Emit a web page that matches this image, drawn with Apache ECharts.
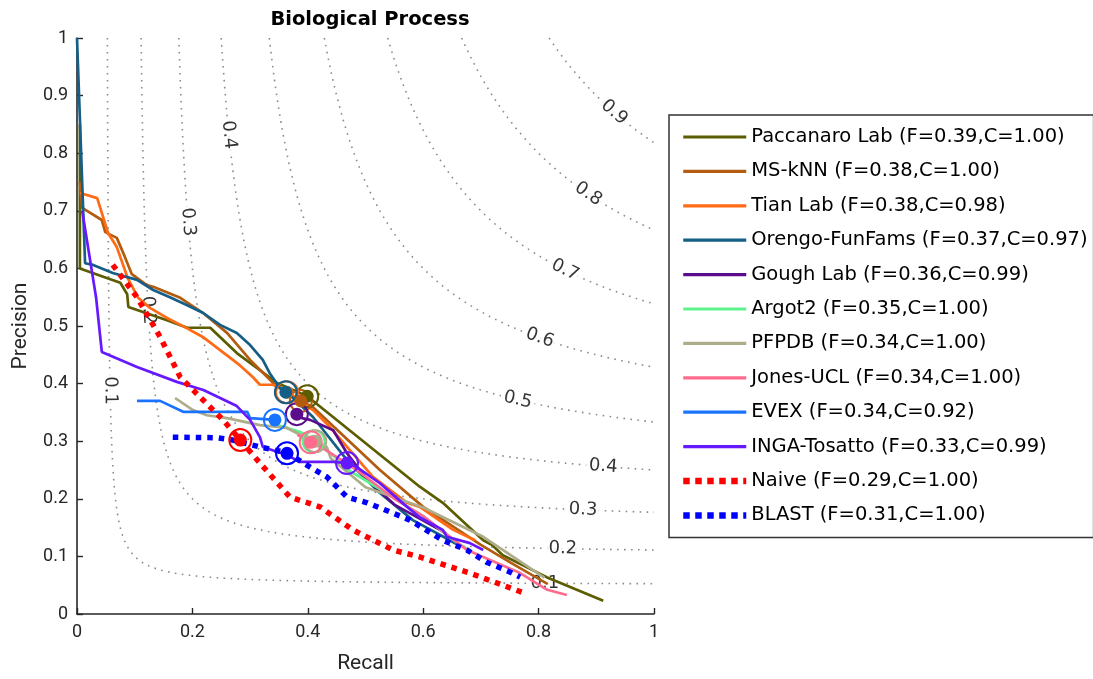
<!DOCTYPE html>
<html>
<head>
<meta charset="utf-8">
<script src="https://cdn.jsdelivr.net/npm/echarts@6/dist/echarts.min.js"></script>
<style>
html,body{margin:0;padding:0;background:#fff;}
#chart{width:1093px;height:679px;}
</style>
</head>
<body>
<div id="chart"></div>
<script>
// ---------- data ----------
const methods = ['Paccanaro Lab','MS-kNN','Tian Lab','Orengo-FunFams','Gough Lab','Argot2','PFPDB','Jones-UCL','EVEX','INGA-Tosatto','Naive','BLAST'];
const methodStats = ['F=0.39,C=1.00','F=0.38,C=1.00','F=0.38,C=0.98','F=0.37,C=0.97','F=0.36,C=0.99','F=0.35,C=1.00','F=0.34,C=1.00','F=0.34,C=1.00','F=0.34,C=0.92','F=0.33,C=0.99','F=0.29,C=1.00','F=0.31,C=1.00'];

const paccanaroPR = [[0.005,0.85],[0.005,0.60],[0.075,0.575],[0.087,0.555],[0.089,0.533],[0.156,0.51],[0.191,0.497],[0.231,0.497],[0.277,0.453],[0.347,0.401],[0.399,0.378],[0.594,0.221],[0.634,0.193],[0.704,0.128],[0.719,0.120],[0.738,0.102],[0.814,0.064],[0.912,0.023]];
const msknnPR = [[0.005,0.75],[0.009,0.705],[0.043,0.684],[0.049,0.663],[0.069,0.653],[0.083,0.62],[0.095,0.59],[0.121,0.571],[0.132,0.568],[0.179,0.549],[0.218,0.523],[0.260,0.488],[0.300,0.441],[0.340,0.401],[0.388,0.370],[0.409,0.359],[0.525,0.25],[0.600,0.186],[0.70,0.12],[0.75,0.09],[0.816,0.052]];
const tianPR = [[0.005,0.731],[0.035,0.722],[0.054,0.661],[0.069,0.637],[0.088,0.583],[0.106,0.549],[0.127,0.531],[0.156,0.514],[0.187,0.498],[0.218,0.481],[0.248,0.458],[0.282,0.432],[0.305,0.411],[0.317,0.398],[0.340,0.398],[0.364,0.385],[0.409,0.354],[0.438,0.325],[0.468,0.290],[0.513,0.238],[0.572,0.193],[0.594,0.186],[0.652,0.146],[0.690,0.128]];
const orengoPR = [[0.0,1.0],[0.014,0.609],[0.028,0.606],[0.062,0.592],[0.104,0.580],[0.132,0.5625],[0.161,0.550],[0.191,0.536],[0.218,0.523],[0.248,0.502],[0.277,0.488],[0.300,0.467],[0.322,0.441],[0.334,0.418],[0.352,0.392],[0.364,0.385],[0.409,0.342],[0.468,0.267],[0.525,0.210],[0.582,0.163],[0.646,0.128],[0.66,0.12]];
const goughPR = [[0.381,0.347],[0.390,0.340],[0.404,0.337],[0.444,0.319],[0.468,0.279],[0.503,0.233],[0.55,0.19],[0.64,0.14]];
const argot2PR = [[0.347,0.328],[0.387,0.316],[0.41,0.302],[0.45,0.27],[0.47,0.25],[0.52,0.22],[0.6,0.17],[0.65,0.13],[0.68,0.11]];
const pfpdbPR = [[0.17,0.375],[0.201,0.354],[0.225,0.345],[0.26,0.34],[0.317,0.328],[0.364,0.323],[0.404,0.302],[0.433,0.29],[0.44,0.27],[0.5,0.22],[0.6,0.185],[0.704,0.134],[0.81,0.063]];
const jonesPR = [[0.382,0.311],[0.405,0.298],[0.426,0.288],[0.451,0.272],[0.485,0.250],[0.55,0.2],[0.6,0.17],[0.676,0.111],[0.768,0.071],[0.815,0.042],[0.849,0.033]];
const evexPR = [[0.104,0.370],[0.144,0.370],[0.184,0.351],[0.295,0.351],[0.3,0.34],[0.343,0.337]];
const ingaPR = [[0.009,0.70],[0.033,0.55],[0.043,0.455],[0.104,0.429],[0.173,0.403],[0.219,0.389],[0.277,0.361],[0.3,0.337],[0.317,0.307],[0.322,0.29],[0.364,0.276],[0.386,0.264],[0.444,0.264],[0.468,0.262],[0.485,0.255],[0.525,0.227],[0.572,0.186],[0.594,0.168],[0.634,0.146],[0.641,0.134],[0.681,0.123],[0.704,0.111]];
const naivePR = [[0.062,0.606],[0.104,0.550],[0.144,0.481],[0.179,0.411],[0.218,0.372],[0.253,0.337],[0.283,0.302],[0.317,0.262],[0.369,0.203],[0.421,0.186],[0.478,0.146],[0.548,0.111],[0.594,0.099],[0.681,0.071],[0.776,0.036]];
const blastPR = [[0.166,0.307],[0.243,0.306],[0.27,0.302],[0.317,0.29],[0.364,0.28],[0.404,0.255],[0.433,0.238],[0.468,0.203],[0.503,0.193],[0.548,0.175],[0.577,0.163],[0.634,0.128],[0.676,0.111],[0.71,0.09],[0.75,0.073],[0.768,0.064]];

const fmaxRecall    = [0.399,0.388,0.364,0.362,0.381,0.410,0.413,0.405,0.343,0.468,0.283,0.364];
const fmaxPrecision = [0.378,0.370,0.385,0.385,0.347,0.300,0.300,0.298,0.337,0.262,0.302,0.279];

const isoLevels = [0.1,0.2,0.3,0.4,0.5,0.6,0.7,0.8,0.9];

// ---------- layout / style config ----------
const curves = [paccanaroPR,msknnPR,tianPR,orengoPR,goughPR,argot2PR,pfpdbPR,jonesPR,evexPR,ingaPR,naivePR,blastPR];
const colors = ['#5c5c00','#b35c0f','#ff6a14','#155f87','#5a0c8c','#5cf28c','#adad8a','#ff6b8e','#1a73ff','#6619ff','#ff0000','#0000ff'];
const dotted = [false,false,false,false,false,false,false,false,false,false,true,true];
// where the contour labels sit along each curve: [level, recall]
const isoLabelPlaces = [[0.1,0.0574],[0.2,0.1234],[0.3,0.1924],[0.4,0.2633],
  [0.1,0.811],[0.2,0.842],[0.3,0.877],[0.4,0.912],[0.5,0.764],[0.6,0.802],[0.7,0.846],[0.8,0.886],[0.9,0.931]];

const G = {left:77, top:38, width:577, height:576};

function isoCurve(F){
  const r0 = F/(2-F), pts=[], N=400;
  for(let i=0;i<=N;i++){const t=i/N; const r=r0+(1-r0)*t*t; pts.push([r, Math.min(1, F*r/(2*r-F))]);}
  return pts;
}
const isoP = (F,r)=>F*r/(2*r-F);

const series = [];
isoLevels.forEach(F=>{
  series.push({type:'line', name:'iso'+F, data:isoCurve(F), showSymbol:false, symbol:'none', silent:true, z:1,
    lineStyle:{color:'#8a8a8a', width:1.6, type:[1.6,5.4], cap:'butt'}, animation:false});
});
series.push({type:'scatter', name:'isoLabels', silent:true, z:2, symbolSize:0, animation:false,
  data:isoLabelPlaces.map(([F,r])=>{
    const slope = -(F*F)/Math.pow(2*r-F,2) * (G.height/G.width);
    const ang = Math.atan(slope)*180/Math.PI;
    return {value:[r, isoP(F,r)], label:{show:true, formatter:String(F), rotate:ang}};
  }),
  label:{show:true, position:'inside', fontFamily:'DejaVu Sans', fontSize:18, color:'#000',
    backgroundColor:'#fff', padding:[0,3], align:'center', verticalAlign:'middle'}
});
methods.forEach((m,i)=>{
  series.push({type:'line', name:m, data:curves[i], showSymbol:false, symbol:'none', z:3+i, animation:false,
    lineStyle: dotted[i] ? {color:colors[i], width:5.5, type:[5.5,6], cap:'butt'} : {color:colors[i], width:2.7},
    itemStyle:{color:colors[i]}});
});
methods.forEach((m,i)=>{
  series.push({type:'scatter', name:m+' Fmax ring', data:[[fmaxRecall[i],fmaxPrecision[i]]], symbol:'circle', symbolSize:22, z:20,
    itemStyle:{color:'rgba(0,0,0,0)', borderColor:colors[i], borderWidth:2, opacity:1}, animation:false, silent:true});
  series.push({type:'scatter', name:m+' Fmax', data:[[fmaxRecall[i],fmaxPrecision[i]]], symbol:'circle', symbolSize:13, z:21,
    itemStyle:{color:colors[i], opacity:1}, animation:false, silent:true});
});

const legendData = methods.map((m,i)=>({
  name:m,
  lineStyle: dotted[i] ? {color:colors[i], width:6.5, type:[6.5,5.5], cap:'butt'} : {color:colors[i], width:3.2}
}));

const chart = echarts.init(document.getElementById('chart'), null, {renderer:'canvas'});
chart.setOption({
  backgroundColor:'#fff',
  animation:false,
  title:{text:'Biological Process', left:365, top:5, textAlign:'center',
    textStyle:{fontFamily:'DejaVu Sans', fontWeight:'bold', fontSize:19.5, color:'#000'}},
  grid:{left:G.left, top:G.top, width:G.width, height:G.height, containLabel:false},
  legend:{
    orient:'vertical', left:669, top:115, data:legendData,
    formatter:(name)=>name+' ('+methodStats[methods.indexOf(name)]+')',
    itemWidth:63, itemHeight:14, itemGap:14.4, padding:[12,6,12,11],
    borderColor:'#333', borderWidth:1.5, backgroundColor:'#fff',
    itemStyle:{opacity:0},
    textStyle:{fontFamily:'DejaVu Sans', fontSize:19.5, color:'#000'},
    selectedMode:false
  },
  xAxis:{type:'value', min:0, max:1, interval:0.2, name:'Recall', nameLocation:'middle', nameGap:39,
    nameTextStyle:{fontFamily:'Roboto', fontSize:21, color:'#262626'},
    axisLine:{show:true, lineStyle:{color:'#262626', width:1.6}},
    axisTick:{show:true, inside:true, length:6, lineStyle:{color:'#262626', width:1.4}},
    axisLabel:{fontFamily:'Roboto', fontSize:18, color:'#262626', margin:9, formatter:v=>String(+v.toFixed(1))},
    splitLine:{show:false}},
  yAxis:{type:'value', min:0, max:1, interval:0.1, name:'Precision', nameLocation:'middle', nameGap:46, nameRotate:90,
    nameTextStyle:{fontFamily:'Roboto', fontSize:21, color:'#262626'},
    axisLine:{show:true, lineStyle:{color:'#262626', width:1.6}},
    axisTick:{show:true, inside:true, length:6, lineStyle:{color:'#262626', width:1.4}},
    axisLabel:{fontFamily:'Roboto', fontSize:18, color:'#262626', margin:9, formatter:v=>String(+v.toFixed(1))},
    splitLine:{show:false}},
  series:series
});
</script>
</body>
</html>
